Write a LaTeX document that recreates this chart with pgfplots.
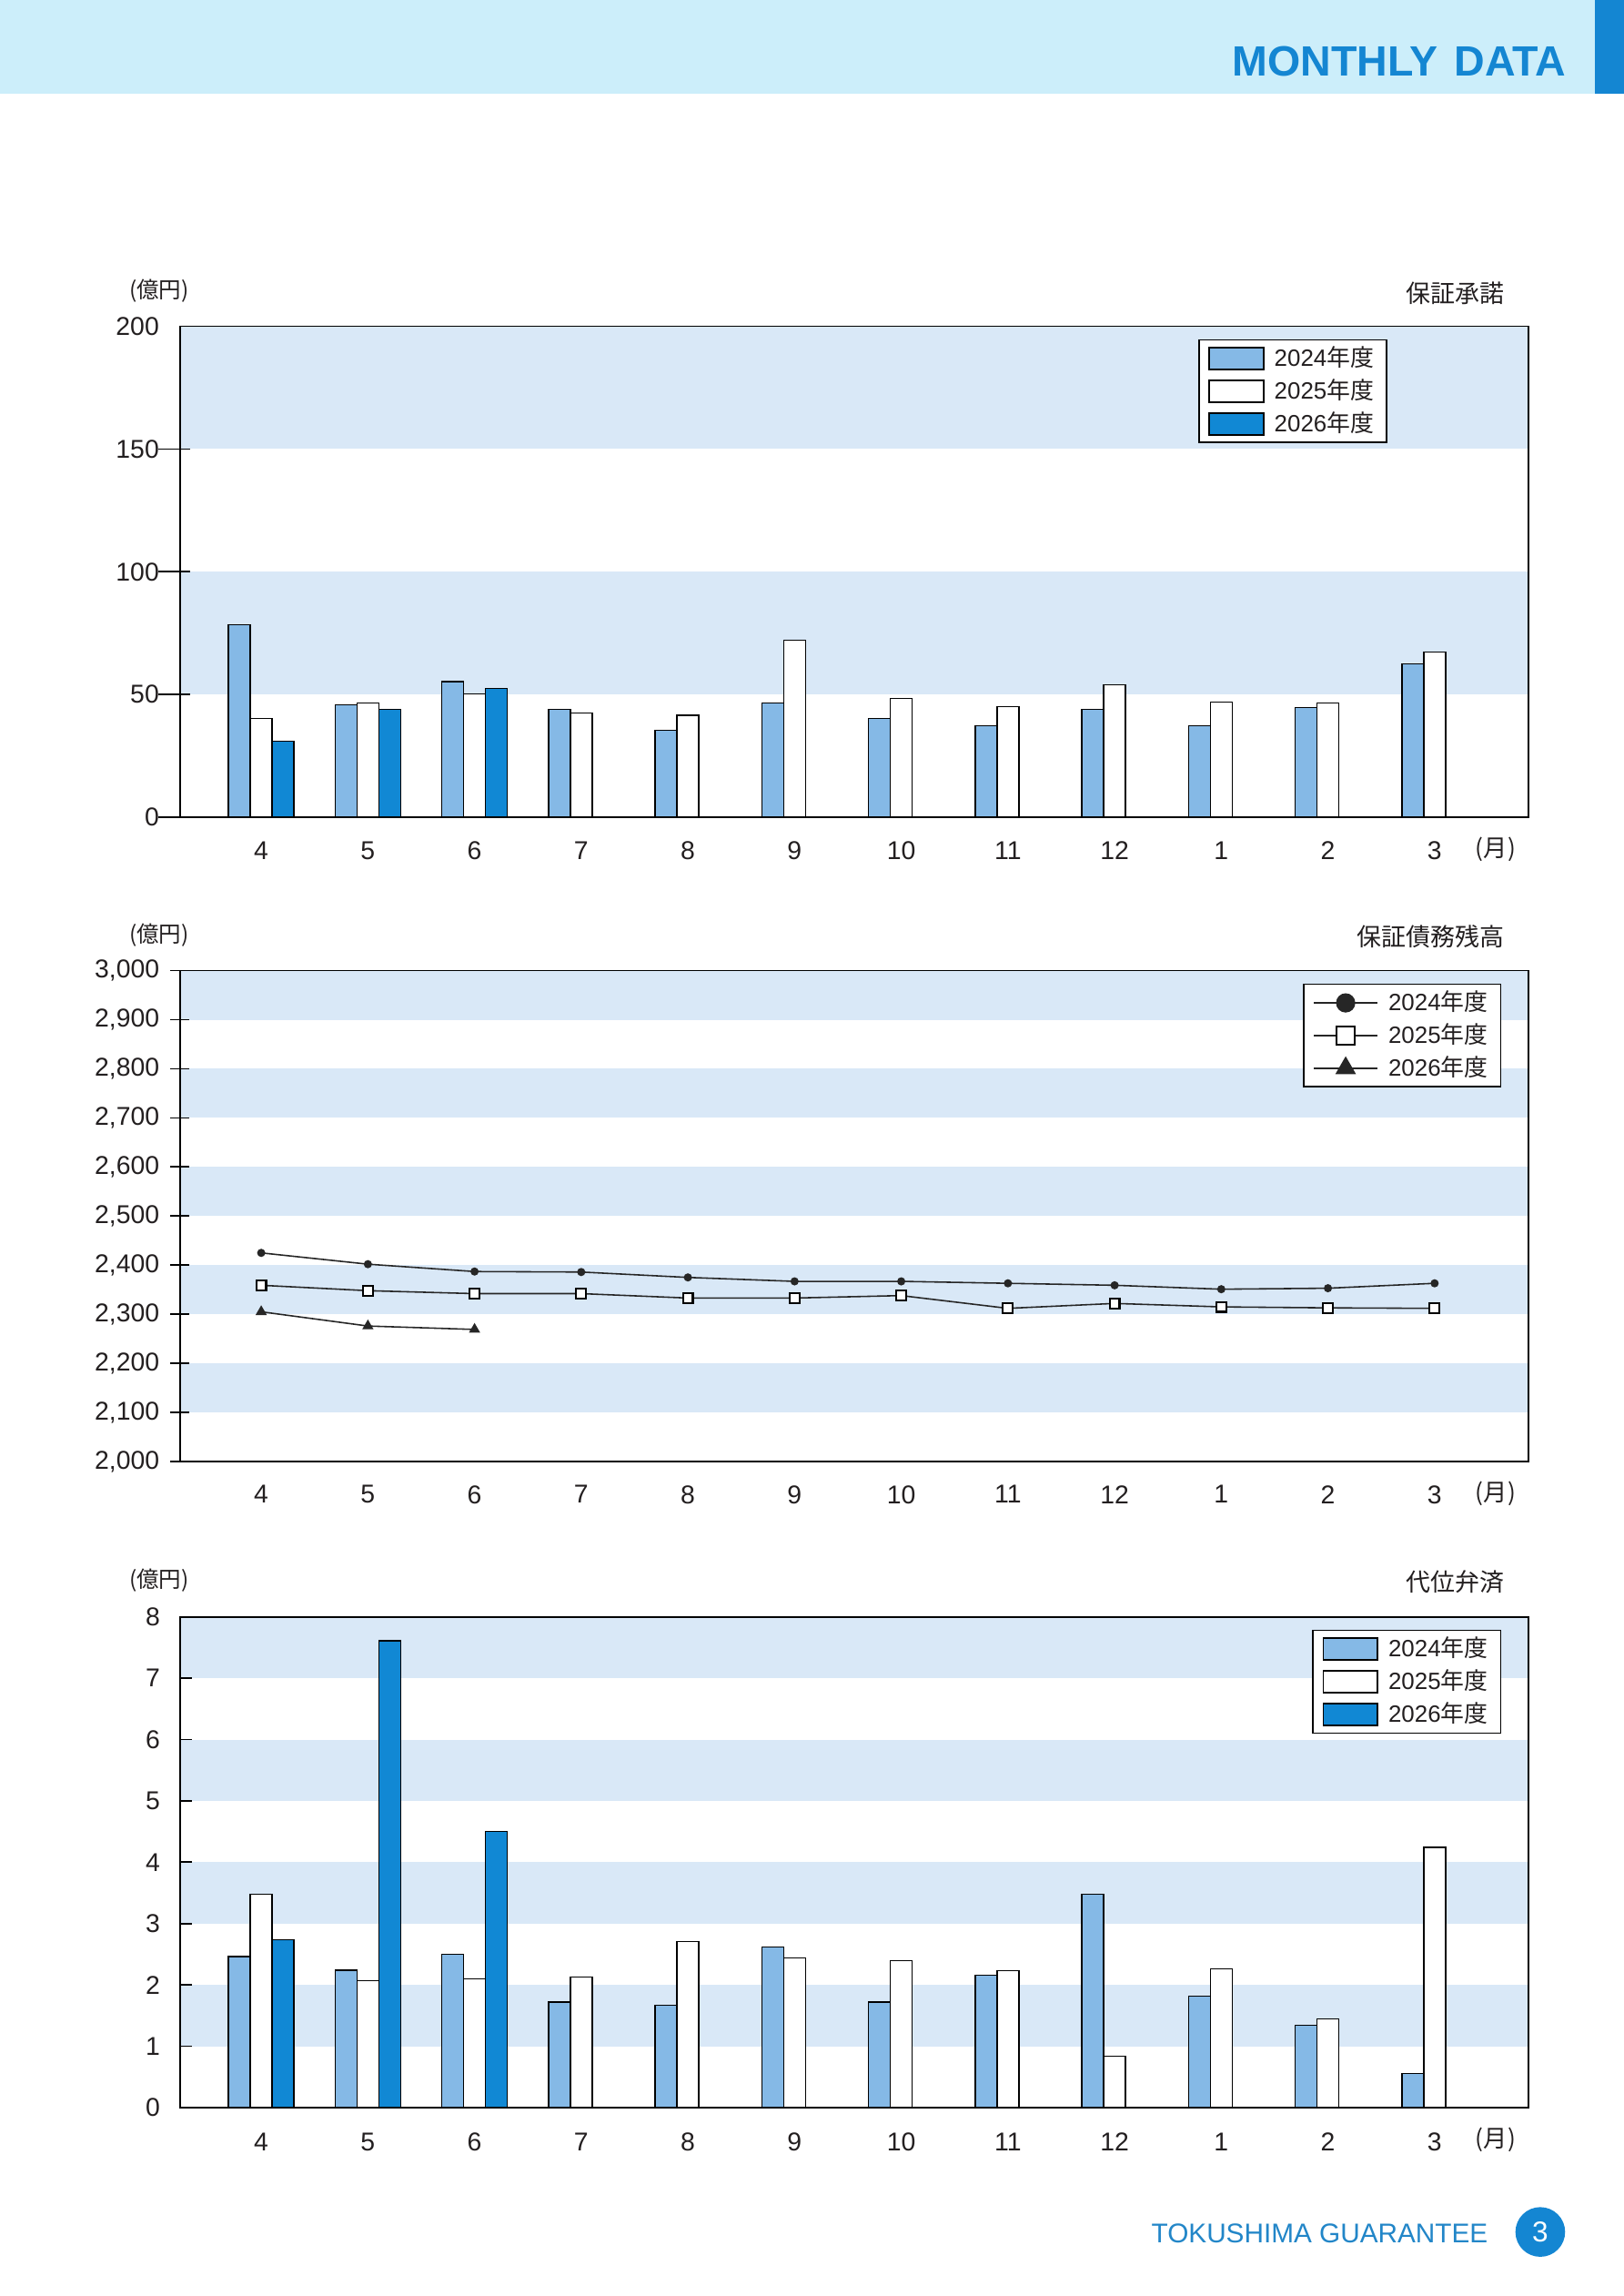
\documentclass[border=0pt]{standalone}
\usepackage{fontspec}
\setmainfont{Liberation Sans}
\newfontfamily\cjk{Noto Sans CJK JP}
\usepackage{pgfplots}
\pgfplotsset{compat=1.18}
\definecolor{band}{RGB}{217,232,247}
\definecolor{bar24}{RGB}{133,185,230}
\definecolor{bar26}{RGB}{17,136,212}
\definecolor{hdr}{RGB}{204,238,250}
\definecolor{hdrblue}{RGB}{20,134,210}
\definecolor{footblue}{RGB}{34,134,200}
\definecolor{txt}{RGB}{35,31,32}
\pgfplotsset{
  page axis/.style={
    scale only axis, width=423.43pt, height=154.1pt,
    anchor=south west,
    xmin=-0.76, xmax=11.88,
    xtick={0,...,11}, xticklabels={4,5,6,7,8,9,10,11,12,1,2,3},
    xtick style={draw=none},
    ytick pos=left,
    axis on top,
    axis line style={line width=0.5pt, black},
    every tick/.style={black, line width=0.5pt},
    tick label style={font=\fontsize{8.1}{9}\selectfont, text=txt},
    /pgf/number format/assume math mode=true,
    xticklabel style={yshift=-4.4pt},
    legend cell align=left,
    legend style={draw=black, line width=0.5pt, fill=white,
      font=\fontsize{7.4}{9}\selectfont, text=txt,
      inner xsep=3pt, inner ysep=1pt, row sep=0.5pt, column sep=2.2pt,
      nodes={inner sep=1pt}},
  },
  bar axis/.style={ybar=0pt, bar width=6.86pt,
    legend image code/.code={\draw[##1, line width=0.5pt] (0pt,-3.45pt) rectangle (17pt,3.45pt);}},
  line axis/.style={
    legend image code/.code={\draw[mark repeat=2,mark phase=2,##1] plot coordinates {(0pt,0pt)(10pt,0pt)(20pt,0pt)};}},
}
\tikzset{titlefont/.style={font={\cjk\fontsize{7.7}{9}\selectfont}, text=txt}}
\begin{document}
\begin{tikzpicture}
\path[use as bounding box] (0,0) rectangle (510pt,720.857pt);
\fill[white] (0,0) rectangle (510pt,720.857pt);
% header
\fill[hdr] (0,691.46pt) rectangle (500.9pt,720.857pt);
\fill[hdrblue] (500.9pt,691.46pt) rectangle (510pt,720.857pt);
\node[anchor=base east, inner sep=0, font=\bfseries\fontsize{13.3}{15}\selectfont, text=hdrblue] at (492pt,697.1pt) {MONTHLY\hspace{0.4em}DATA};

% ---------- chart 1 ----------
\begin{axis}[page axis, bar axis, name=ax1, at={(56.57pt,464.29pt)},
  ymin=0, ymax=200, ytick={0,50,100,150},
  extra y ticks={200}, extra y tick style={major tick style={draw=none}},
  tick align=center, major tick length=10pt,
  ytick style={xshift=-1.86pt},
  yticklabel style={xshift=1.9pt},
  xticklabel style={yshift=5.3pt},
  legend style={at={(0.8954,0.974)}, anchor=north east}]
\fill[band] (axis cs:-0.76,50) rectangle (axis cs:11.88,100);
\fill[band] (axis cs:-0.76,150) rectangle (axis cs:11.88,200);
\addplot[fill=bar24, draw=black, line width=0.4pt] coordinates {
(0,78.3)(1,45.7)(2,55.3)(3,43.9)(4,35.4)(5,46.6)(6,40.2)(7,37.3)(8,43.9)(9,37.3)(10,44.7)(11,62.4)};
\addlegendentry{2024{\cjk 年度}}
\addplot[fill=white, draw=black, line width=0.4pt] coordinates {
(0,40.2)(1,46.6)(2,50.3)(3,42.4)(4,41.5)(5,72.2)(6,48.4)(7,45.0)(8,54.0)(9,46.9)(10,46.6)(11,67.2)};
\addlegendentry{2025{\cjk 年度}}
\addplot[fill=bar26, draw=black, line width=0.4pt] coordinates {
(0,31.0)(1,43.9)(2,52.4)};
\addlegendentry{2026{\cjk 年度}}
\end{axis}
\node[font={\cjk\fontsize{7}{9}\selectfont}, text=txt] at ([xshift=-6.6pt,yshift=11.0pt]ax1.north west) {(億円)};
\node[anchor=east, titlefont] at ([xshift=-4.2pt,yshift=10.4pt]ax1.north east) {保証承諾};
\node[font={\cjk\fontsize{7.5}{9}\selectfont}, text=txt] at ([xshift=-10.3pt,yshift=-10pt]ax1.south east) {(月)};

% ---------- chart 2 ----------
\begin{axis}[page axis, line axis, name=ax2, at={(56.57pt,262.0pt)},
  ymin=2000, ymax=3000, ytick={2000,2100,...,3000},
  /pgf/number format/1000 sep={,},
  tick align=center, major tick length=6pt,
  xticklabel style={yshift=3.4pt},
  legend style={at={(0.980,0.974)}, anchor=north east}]
\fill[band] (axis cs:-0.76,2100) rectangle (axis cs:11.88,2200);
\fill[band] (axis cs:-0.76,2300) rectangle (axis cs:11.88,2400);
\fill[band] (axis cs:-0.76,2500) rectangle (axis cs:11.88,2600);
\fill[band] (axis cs:-0.76,2700) rectangle (axis cs:11.88,2800);
\fill[band] (axis cs:-0.76,2900) rectangle (axis cs:11.88,3000);
\addplot[black!85, line width=0.45pt, mark=*, mark size=1.05pt, forget plot] coordinates {
(0,2425)(1,2402)(2,2387)(3,2386)(4,2375)(5,2367)(6,2367)(7,2363)(8,2359)(9,2351)(10,2353)(11,2363)};
\addplot[black!85, line width=0.45pt, mark=square*, mark options={fill=white, draw=black, line width=0.6pt}, mark size=1.55pt, forget plot] coordinates {
(0,2359)(1,2348)(2,2342)(3,2342)(4,2333)(5,2333)(6,2338)(7,2312)(8,2322)(9,2315)(10,2313)(11,2312)};
\addplot[black!85, line width=0.45pt, mark=triangle*, mark size=1.6pt, forget plot] coordinates {
(0,2305)(1,2276)(2,2269)};
\addlegendimage{black!85, line width=0.45pt, mark=*, mark size=2.8pt}
\addlegendentry{2024{\cjk 年度}}
\addlegendimage{black!85, line width=0.45pt, mark=square*, mark options={fill=white, draw=black, line width=0.5pt}, mark size=2.8pt}
\addlegendentry{2025{\cjk 年度}}
\addlegendimage{black!85, line width=0.45pt, mark=triangle*, mark size=3.3pt}
\addlegendentry{2026{\cjk 年度}}
\end{axis}
\node[font={\cjk\fontsize{7}{9}\selectfont}, text=txt] at ([xshift=-6.6pt,yshift=11.2pt]ax2.north west) {(億円)};
\node[anchor=east, titlefont] at ([xshift=-4.2pt,yshift=10.6pt]ax2.north east) {保証債務残高};
\node[font={\cjk\fontsize{7.5}{9}\selectfont}, text=txt] at ([xshift=-10.3pt,yshift=-10pt]ax2.south east) {(月)};

% ---------- chart 3 ----------
\begin{axis}[page axis, bar axis, name=ax3, at={(56.57pt,59.14pt)},
  ymin=0, ymax=8, ytick={1,...,7},
  extra y ticks={0,8}, extra y tick style={major tick style={draw=none}},
  tick align=inside, major tick length=3.6pt,
  yticklabel style={xshift=-2.8pt},
  legend style={at={(0.980,0.974)}, anchor=north east}]
\fill[band] (axis cs:-0.76,1) rectangle (axis cs:11.88,2);
\fill[band] (axis cs:-0.76,3) rectangle (axis cs:11.88,4);
\fill[band] (axis cs:-0.76,5) rectangle (axis cs:11.88,6);
\fill[band] (axis cs:-0.76,7) rectangle (axis cs:11.88,8);
\addplot[fill=bar24, draw=black, line width=0.4pt] coordinates {
(0,2.46)(1,2.24)(2,2.50)(3,1.72)(4,1.67)(5,2.62)(6,1.72)(7,2.16)(8,3.48)(9,1.82)(10,1.34)(11,0.56)};
\addlegendentry{2024{\cjk 年度}}
\addplot[fill=white, draw=black, line width=0.4pt] coordinates {
(0,3.48)(1,2.07)(2,2.10)(3,2.13)(4,2.71)(5,2.44)(6,2.40)(7,2.23)(8,0.84)(9,2.26)(10,1.45)(11,4.24)};
\addlegendentry{2025{\cjk 年度}}
\addplot[fill=bar26, draw=black, line width=0.4pt] coordinates {
(0,2.74)(1,7.61)(2,4.50)};
\addlegendentry{2026{\cjk 年度}}
\end{axis}
\node[font={\cjk\fontsize{7}{9}\selectfont}, text=txt] at ([xshift=-6.6pt,yshift=11.5pt]ax3.north west) {(億円)};
\node[anchor=east, titlefont] at ([xshift=-4.2pt,yshift=11.1pt]ax3.north east) {代位弁済};
\node[font={\cjk\fontsize{7.5}{9}\selectfont}, text=txt] at ([xshift=-10.3pt,yshift=-10pt]ax3.south east) {(月)};

% footer
\node[anchor=base west, inner sep=0, font=\fontsize{8.5}{10}\selectfont, text=footblue] at (361.4pt,16.6pt) {TOKUSHIMA GUARANTEE};
\fill[hdrblue] (483.7pt,20.1pt) circle (7.8pt);
\node[text=white, font=\fontsize{9}{10}\selectfont] at (483.7pt,20.1pt) {3};
\end{tikzpicture}
\end{document}
